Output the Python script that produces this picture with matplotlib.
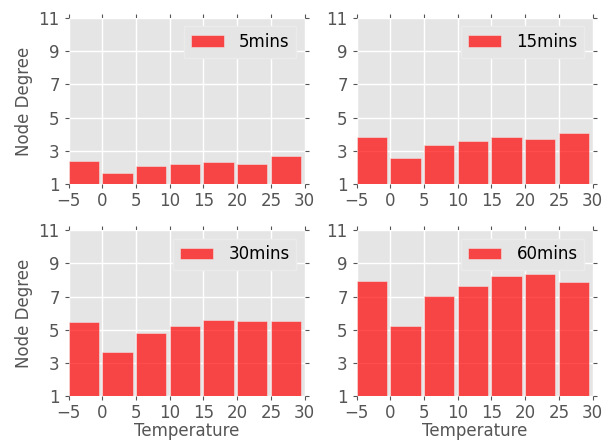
import matplotlib
matplotlib.use("Agg")
import matplotlib.pyplot as plt

temperatures = [-5, 0, 5, 10, 15, 20, 25]
labels = ["5mins", "15mins", "30mins", "60mins"]
deg_5 = [2.37, 1.65, 2.07, 2.19, 2.31, 2.19, 2.68]
deg_15 = [3.81, 2.58, 3.34, 3.59, 3.83, 3.73, 4.05]
deg_30 = [5.47, 3.63, 4.80, 5.20, 5.61, 5.55, 5.55]
deg_60 = [7.96, 5.20, 7.02, 7.64, 8.24, 8.36, 7.90]
series = [deg_5, deg_15, deg_30, deg_60]
xticks = [-5, 0, 5, 10, 15, 20, 25, 30]
yticks = [1, 3, 5, 7, 9, 11]

fig = plt.figure(figsize=(6.14, 4.42), dpi=100)
L = [0.112, 0.581]
W = 0.384
B = [0.584, 0.104]
H = 0.375
grey = "#555555"

for i, (vals, lab) in enumerate(zip(series, labels)):
    r, c = divmod(i, 2)
    ax = fig.add_axes([L[c], B[r], W, H])
    ax.set_facecolor("#E5E5E5")
    ax.set_axisbelow(True)
    ax.grid(True, color="white", linewidth=1.0)
    for s in ax.spines.values():
        s.set_visible(False)
    ax.bar(temperatures, [v - 1 for v in vals], bottom=1, width=4.5, align="edge",
           color="red", alpha=0.7, edgecolor="#EEEEEE", linewidth=0.5, label=lab)
    ax.set_xlim(-5, 30)
    ax.set_ylim(1, 11)
    ax.set_xticks(xticks)
    ax.set_yticks(yticks)
    ax.tick_params(axis="both", which="both", direction="out", top=True, right=True,
                   color=grey, labelcolor=grey, labelsize=12, length=3)
    ax.tick_params(axis="x", pad=2.5)
    if c == 0:
        ax.set_ylabel("Node Degree", color=grey, fontsize=12)
    if r == 1:
        ax.set_xlabel("Temperature", color=grey, fontsize=12, labelpad=0)
    leg = ax.legend(loc="upper right", fontsize=12, facecolor="#E5E5E5",
                    edgecolor="#EBEBEB", framealpha=1.0, fancybox=False,
                    handlelength=2.0, borderpad=0.4, handletextpad=0.9,
                    borderaxespad=0.5)

fig.savefig("out.png", dpi=100)
